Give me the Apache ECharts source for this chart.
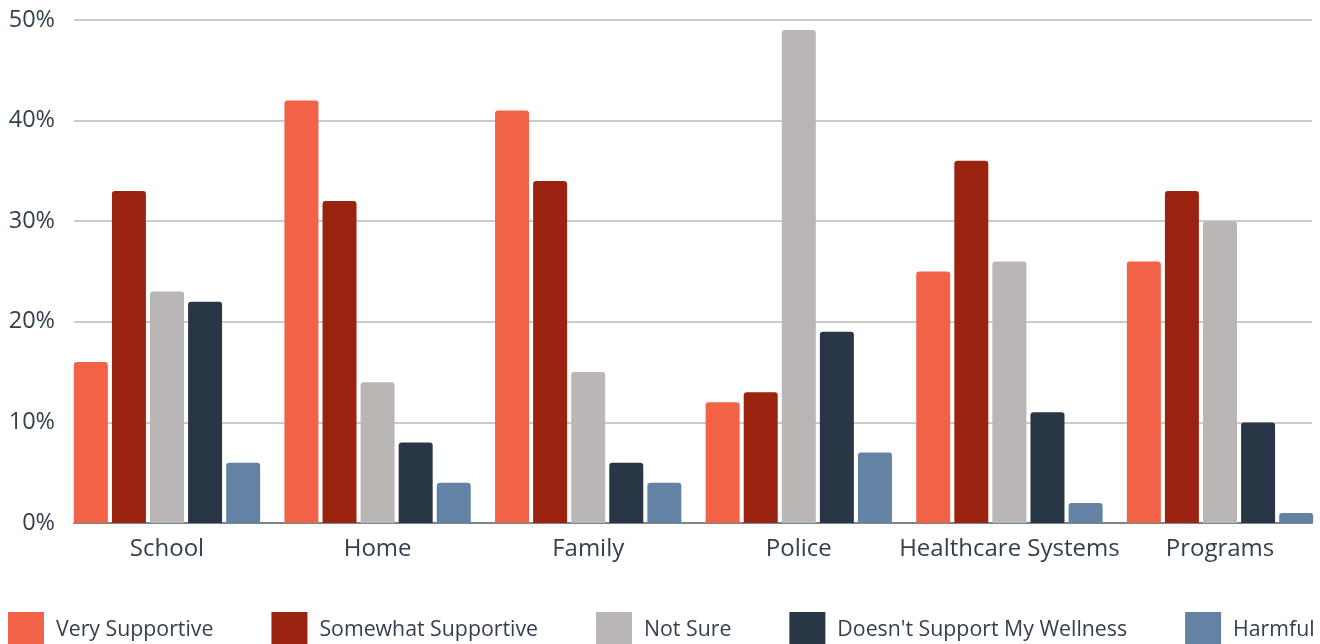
<!DOCTYPE html>
<html>
<head>
<meta charset="utf-8">
<script src="https://cdn.jsdelivr.net/npm/echarts@6/dist/echarts.min.js"></script>
<style>
  html, body { margin: 0; padding: 0; background: #fff; }
  #chart { width: 1320px; height: 644px; }
</style>
</head>
<body>
<div id="chart"></div>
<script>
  const categories = ['School', 'Home', 'Family', 'Police', 'Healthcare Systems', 'Programs']
  const verySupportive = [16, 42, 41, 12, 25, 26]
  const somewhatSupportive = [33, 32, 34, 13, 36, 33]
  const notSure = [23, 14, 15, 49, 26, 30]
  const doesntSupport = [22, 8, 6, 19, 11, 10]
  const harmful = [6, 4, 4, 7, 2, 1]

  const seriesNames = ['Very Supportive', 'Somewhat Supportive', 'Not Sure', "Doesn't Support My Wellness", 'Harmful']
  const seriesData = [verySupportive, somewhatSupportive, notSure, doesntSupport, harmful]
  const colors = ['#F16247', '#9A2410', '#BAB6B5', '#283645', '#6482A4']

  const textColor = '#333F4A'
  const fontFamily = '"Open Sans", sans-serif'

  const chart = echarts.init(document.getElementById('chart'))

  const option = {
    animation: false,
    color: colors,
    textStyle: { fontFamily: fontFamily },
    legend: {
      data: seriesNames,
      left: 8,
      top: 612,
      padding: 0,
      itemWidth: 36,
      itemHeight: 35,
      itemGap: 58,
      icon: 'rect',
      textStyle: {
        fontSize: 21.3,
        color: textColor,
        fontFamily: fontFamily,
        padding: [0, 0, 0, 7]
      }
    },
    grid: [
      // bars: categories sit on ticks, so the outer groups touch the plot edges
      { left: 167, right: 100, top: 20, bottom: 121 },
      // gridlines and axis
      { left: 74, right: 8, top: 20, bottom: 121 }
    ],
    xAxis: [
      {
        type: 'category',
        gridIndex: 0,
        data: categories,
        boundaryGap: false,
        axisLine: { show: false },
        axisTick: { show: false },
        splitLine: { show: false },
        axisLabel: { interval: 0, fontSize: 24, color: textColor, margin: 14, fontFamily: fontFamily }
      },
      {
        type: 'category',
        gridIndex: 1,
        data: categories,
        axisLine: { show: true, lineStyle: { color: '#7C858E', width: 2 } },
        axisTick: { show: false },
        axisLabel: { show: false }
      }
    ],
    yAxis: [
      {
        type: 'value',
        gridIndex: 0,
        min: 0,
        max: 50,
        show: false,
        splitLine: { show: false }
      },
      {
        type: 'value',
        gridIndex: 1,
        min: 0,
        max: 50,
        interval: 10,
        axisLine: { show: false },
        axisTick: { show: false },
        axisLabel: {
          formatter: '{value}%',
          fontSize: 23.5,
          color: textColor,
          margin: 19,
          fontFamily: fontFamily
        },
        splitLine: { lineStyle: { color: '#C9CBCD', width: 2 } }
      }
    ],
    series: seriesNames.map((name, i) => ({
      name: name,
      type: 'bar',
      xAxisIndex: 0,
      yAxisIndex: 0,
      data: seriesData[i],
      barWidth: 34,
      barGap: '12%',
      clip: false,
      z: 3,
      itemStyle: { color: colors[i], borderRadius: [3, 3, 0, 0] }
    }))
  }

  chart.setOption(option)
</script>
</body>
</html>
